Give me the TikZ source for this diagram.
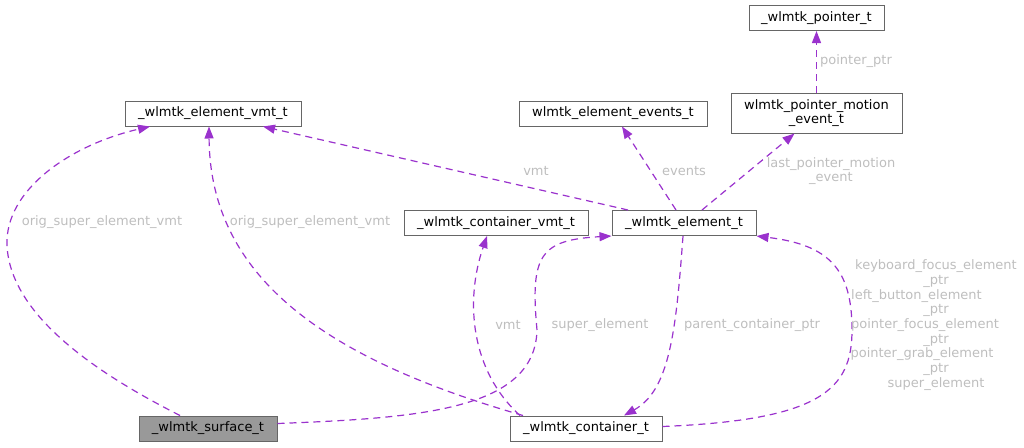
\documentclass[tikz,border=0pt]{standalone}
\usepackage{fontspec}
\setmainfont{DejaVu Sans}
\usetikzlibrary{arrows.meta}
\definecolor{edgecol}{HTML}{9A32CD}
\definecolor{lblcol}{HTML}{BEBEBE}
\definecolor{boxcol}{HTML}{666666}
\definecolor{surfcol}{HTML}{999999}

\begin{document}
\begin{tikzpicture}[x=1pt, y=-1pt,
  cls/.style={draw=boxcol, fill=white, line width=1pt, minimum height=25pt, inner sep=0pt, align=center, font=\fontsize{13}{14}\selectfont},
  rel/.style={edgecol, line width=1.2pt, dash pattern=on 7pt off 5pt, -{Triangle[length=12pt,width=9pt]}},
  lbl/.style={text=lblcol, align=center, inner sep=0pt, font=\fontsize{13}{14.7}\selectfont}]
\useasboundingbox (0,0) rectangle (1024,447);
% classes
\node[cls, minimum width=135pt] (ptr) at (816.5,18) {\_wlmtk\_pointer\_t};
\node[cls, minimum width=171pt, minimum height=40pt] (motion) at (816.5,113) {wlmtk\_pointer\_motion\\\_event\_t};
\node[cls, minimum width=188pt] (events) at (613,113.5) {wlmtk\_element\_events\_t};
\node[cls, minimum width=176pt] (evmt) at (213,113.5) {\_wlmtk\_element\_vmt\_t};
\node[cls, minimum width=184pt] (cvmt) at (496,223) {\_wlmtk\_container\_vmt\_t};
\node[cls, minimum width=144pt] (elem) at (684,223) {\_wlmtk\_element\_t};
\node[cls, fill=surfcol, minimum width=138pt] (surf) at (208,428.5) {\_wlmtk\_surface\_t};
\node[cls, minimum width=152pt] (cont) at (586,428.5) {\_wlmtk\_container\_t};
% members
\draw[rel] ([xshift=-28pt]surf.north) .. controls (110,380) and (10,320) .. (7,245)
  .. controls (5,190) and (70,145) .. ([xshift=-63pt]evmt.south);
\draw[rel] ([xshift=-63pt]cont.north) .. controls (330,360) and (210,280) .. ([xshift=-4pt]evmt.south);
\draw[rel] ([xshift=-56pt]elem.north) -- ([xshift=50pt]evmt.south);
\draw[rel] ([xshift=-8pt]elem.north) -- ([xshift=9pt]events.south);
\draw[rel] ([xshift=18pt]elem.north) -- ([xshift=-22pt]motion.south);
\draw[rel] (motion.north) -- (ptr.south);
\draw[rel] ([xshift=-66pt]cont.north) .. controls (470,370) and (465,300) .. ([xshift=-9pt]cvmt.south);
\draw[rel] ([yshift=5pt]surf.east) .. controls (420,418) and (535,410) .. (537,330)
  .. controls (530,255) and (540,240) .. (elem.south west);
\draw[rel] ([xshift=-1pt]elem.south) .. controls (676,330) and (670,390) .. ([xshift=38pt]cont.north);
\draw[rel] ([yshift=2pt]cont.east) .. controls (820,420) and (852,390) .. (852,330)
  .. controls (852,270) and (830,245) .. (elem.south east);
% member names
\node[lbl] (l1) at (102,222) {orig\_super\_element\_vmt};
\node[lbl] (l2) at (310,222) {orig\_super\_element\_vmt};
\node[lbl] (l3) at (536,171) {vmt};
\node[lbl] (l4) at (684,171) {events};
\node[lbl] (l5) at (831,171) {last\_pointer\_motion\\\_event};
\node[lbl] (l6) at (856,61) {pointer\_ptr};
\node[lbl] (l7) at (508,325) {vmt};
\node[lbl] (l8) at (600,325) {super\_element};
\node[lbl] (l9) at (752,325) {parent\_container\_ptr};
\node[lbl] (l10) at (936,325) {keyboard\_focus\_element\\\_ptr\\left\_button\_element\hspace*{39pt}\null\\\_ptr\\pointer\_focus\_element\hspace*{22pt}\null\\\_ptr\\pointer\_grab\_element\hspace*{28pt}\null\\\_ptr\\super\_element};
\end{tikzpicture}
\end{document}
